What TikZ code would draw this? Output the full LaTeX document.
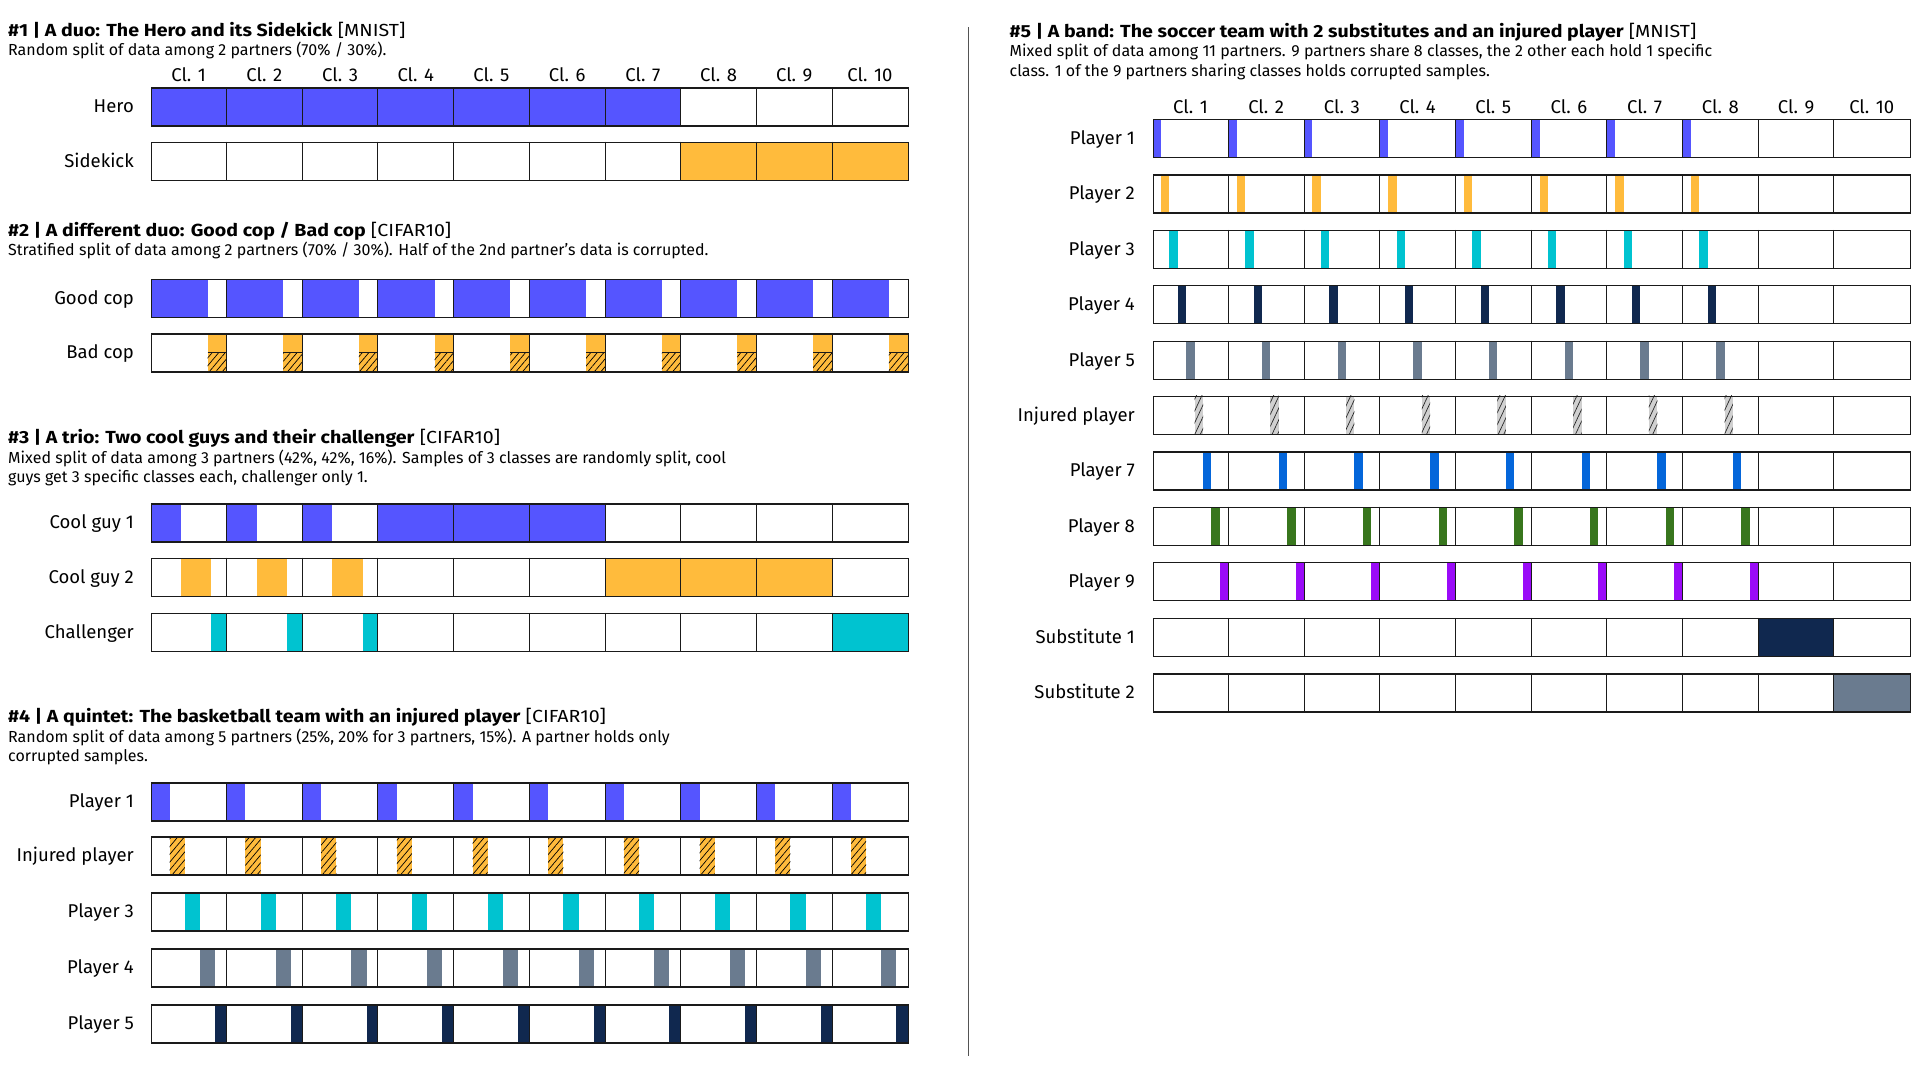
\documentclass[tikz,border=0pt]{standalone}
\usepackage{fontspec}
\setmainfont{Fira Sans}
\newfontfamily\titlefont{Fira Sans}[FakeStretch=1.12]
\usetikzlibrary{patterns.meta}
\definecolor{blueC}{HTML}{5555FF}
\definecolor{orangeC}{HTML}{FFBB3C}
\definecolor{cyanC}{HTML}{00C3D0}
\definecolor{slateC}{HTML}{6A7B8F}
\definecolor{navyC}{HTML}{10284F}
\definecolor{blueTwo}{HTML}{0466DA}
\definecolor{greenC}{HTML}{38761D}
\definecolor{purpleC}{HTML}{9A0BF8}
\definecolor{grayH}{HTML}{D0D0D0}
\definecolor{inkC}{HTML}{1A1A1A}
\def\CW{75.7}
\def\BH{38}
\def\LX{150.8}
\def\RX{1152.6}
\tikzset{
  barbox/.style={draw=inkC, line width=1.3pt, fill=none, inner sep=0pt, minimum width=757pt, minimum height=38pt, anchor=north west},
  divline/.style={draw=inkC, line width=1pt},
  lbl/.style={anchor=base east, inner sep=0pt, font=\fontsize{18.5}{21}\selectfont},
  cls/.style={anchor=base, inner sep=0pt, font=\fontsize{18.5}{21}\selectfont},
  ttl/.style={anchor=base west, inner sep=0pt, font=\titlefont\fontsize{17.5}{20}\selectfont},
  sub/.style={anchor=base west, inner sep=0pt, font=\fontsize{16}{19}\selectfont},
  fB/.style={fill=blueC}, fO/.style={fill=orangeC}, fC/.style={fill=cyanC},
  fS/.style={fill=slateC}, fN/.style={fill=navyC}, fB2/.style={fill=blueTwo},
  fG/.style={fill=greenC}, fP/.style={fill=purpleC},
  hatchO/.style={fill=orangeC, postaction={pattern={Lines[angle=50,distance=5pt,line width=0.7pt]}, pattern color=black}},
  hatchG/.style={fill=grayH, postaction={pattern={Lines[angle=65,distance=5pt,line width=0.7pt]}, pattern color=black!85}},
}
% strip: x0, ytop, ybottom, from, to, style, cells
\newcommand\cellstrip[7]{%
  \foreach \c in {#7} {\path[#6] ({#1+(\c-1+#4)*\CW},#2) rectangle ({#1+(\c-1+#5)*\CW},#3);}%
}
% frame: x0, ytop, name
\newcommand\rowframe[3]{%
  \foreach \k in {1,...,9} {\draw[divline] ({#1+\k*\CW},#2) -- ({#1+\k*\CW},{#2+\BH});}%
  \node[barbox] (#3) at (#1,#2) {};%
}
\begin{document}
\begin{tikzpicture}[x=1pt,y=-1pt]
\useasboundingbox (0,0) rectangle (1925,1080);
\fill[white] (0,0) rectangle (1925,1080);

% ---------------- Section 1 ----------------
\node[ttl] (t1) at (8,36) {\textbf{\#1 | A duo: The Hero and its Sidekick} [MNIST]};
\node[sub] (s1) at (8,55.5) {Random split of data among 2 partners (70\% / 30\%).};
\foreach \k in {1,...,10} {\node[cls] (ca\k) at ({\LX+(\k-0.5)*\CW},81) {Cl. \k};}
\cellstrip{\LX}{87.3}{125.3}{0}{1}{fB}{1,...,7}
\rowframe{\LX}{87.3}{hero}
\cellstrip{\LX}{141.7}{179.7}{0}{1}{fO}{8,9,10}
\rowframe{\LX}{141.7}{sidekick}
\node[lbl] (lhero) at (134,112.8) {Hero};
\node[lbl] (lside) at (134,167.2) {Sidekick};

% ---------------- Section 2 ----------------
\node[ttl] (t2) at (8,236) {\textbf{\#2 | A different duo: Good cop / Bad cop} [CIFAR10]};
\node[sub] (s2) at (8,255.5) {Stratified split of data among 2 partners (70\% / 30\%). Half of the 2nd partner’s data is corrupted.};
\cellstrip{\LX}{279}{317}{0}{0.75}{fB}{1,...,10}
\rowframe{\LX}{279}{goodcop}
\cellstrip{\LX}{333.3}{352.3}{0.75}{1}{fO}{1,...,10}
\cellstrip{\LX}{352.3}{371.3}{0.75}{1}{hatchO}{1,...,10}
\foreach \c in {1,...,10} {\draw[divline] ({\LX+(\c-0.25)*\CW},352.3) -- ({\LX+\c*\CW},352.3);}
\rowframe{\LX}{333.3}{badcop}
\node[lbl] (lgood) at (134,304.5) {Good cop};
\node[lbl] (lbad) at (134,358.8) {Bad cop};

% ---------------- Section 3 ----------------
\node[ttl] (t3) at (8,443.5) {\textbf{\#3 | A trio: Two cool guys and their challenger} [CIFAR10]};
\node[sub] (s3a) at (8,463) {Mixed split of data among 3 partners (42\%, 42\%, 16\%). Samples of 3 classes are randomly split, cool};
\node[sub] (s3b) at (8,482.5) {guys get 3 specific classes each, challenger only 1.};
\cellstrip{\LX}{503.3}{541.3}{0}{0.4}{fB}{1,2,3}
\cellstrip{\LX}{503.3}{541.3}{0}{1}{fB}{4,5,6}
\rowframe{\LX}{503.3}{cool1}
\cellstrip{\LX}{557.5}{595.5}{0.4}{0.8}{fO}{1,2,3}
\cellstrip{\LX}{557.5}{595.5}{0}{1}{fO}{7,8,9}
\rowframe{\LX}{557.5}{cool2}
\cellstrip{\LX}{612.8}{650.8}{0.8}{1}{fC}{1,2,3}
\cellstrip{\LX}{612.8}{650.8}{0}{1}{fC}{10}
\rowframe{\LX}{612.8}{chall}
\node[lbl] (lc1) at (134,528.8) {Cool guy 1};
\node[lbl] (lc2) at (134,583) {Cool guy 2};
\node[lbl] (lch) at (134,638.3) {Challenger};

% ---------------- Section 4 ----------------
\node[ttl] (t4) at (8,722.5) {\textbf{\#4 | A quintet: The basketball team with an injured player} [CIFAR10]};
\node[sub] (s4a) at (8,742) {Random split of data among 5 partners (25\%, 20\% for 3 partners, 15\%). A partner holds only};
\node[sub] (s4b) at (8,761.5) {corrupted samples.};
\cellstrip{\LX}{782.3}{820.3}{0}{0.25}{fB}{1,...,10}
\rowframe{\LX}{782.3}{qp1}
\cellstrip{\LX}{836.3}{874.3}{0.25}{0.45}{hatchO}{1,...,10}
\rowframe{\LX}{836.3}{qinj}
\cellstrip{\LX}{892.3}{930.3}{0.45}{0.65}{fC}{1,...,10}
\rowframe{\LX}{892.3}{qp3}
\cellstrip{\LX}{948.3}{986.3}{0.65}{0.85}{fS}{1,...,10}
\rowframe{\LX}{948.3}{qp4}
\cellstrip{\LX}{1004.3}{1042.3}{0.85}{1}{fN}{1,...,10}
\rowframe{\LX}{1004.3}{qp5}
\node[lbl] (lq1) at (134,807.8) {Player 1};
\node[lbl] (lq2) at (134,861.8) {Injured player};
\node[lbl] (lq3) at (134,917.8) {Player 3};
\node[lbl] (lq4) at (134,973.8) {Player 4};
\node[lbl] (lq5) at (134,1029.8) {Player 5};

% ---------------- Divider ----------------
\coordinate (dtop) at (968.6,27);
\coordinate (dbot) at (968.6,1056);
\draw[inkC!75, line width=1.1pt] (dtop) -- (dbot);

% ---------------- Section 5 ----------------
\node[ttl] (t5) at (1009.5,37) {\textbf{\#5 | A band: The soccer team with 2 substitutes and an injured player} [MNIST]};
\node[sub] (s5a) at (1009.5,56.5) {Mixed split of data among 11 partners. 9 partners share 8 classes, the 2 other each hold 1 specific};
\node[sub] (s5b) at (1009.5,76) {class. 1 of the 9 partners sharing classes holds corrupted samples.};
\foreach \k in {1,...,10} {\node[cls] (cb\k) at ({\RX+(\k-0.5)*\CW},113) {Cl. \k};}
\foreach \i/\nm/\st/\lab in {1/b1/fB/Player 1, 2/b2/fO/Player 2, 3/b3/fC/Player 3, 4/b4/fN/Player 4, 5/b5/fS/Player 5, 6/binj/hatchG/Injured player, 7/b7/fB2/Player 7, 8/b8/fG/Player 8, 9/b9/fP/Player 9} {
  \pgfmathsetmacro\yt{119+(\i-1)*55.38}
  \pgfmathsetmacro\yb{\yt+38}
  \pgfmathsetmacro\fa{(\i-1)/9}
  \pgfmathsetmacro\fb{\i/9}
  \cellstrip{\RX}{\yt}{\yb}{\fa}{\fb}{\st}{1,...,8}
  \rowframe{\RX}{\yt}{\nm}
  \node[lbl] (l\nm) at (1135,{\yt+25.5}) {\lab};
}
\cellstrip{\RX}{617.8}{655.8}{0}{1}{fN}{9}
\rowframe{\RX}{617.8}{sub1}
\cellstrip{\RX}{673.2}{711.2}{0}{1}{fS}{10}
\rowframe{\RX}{673.2}{sub2}
\node[lbl] (lsub1) at (1135,643.3) {Substitute 1};
\node[lbl] (lsub2) at (1135,698.7) {Substitute 2};
\end{tikzpicture}
\end{document}
